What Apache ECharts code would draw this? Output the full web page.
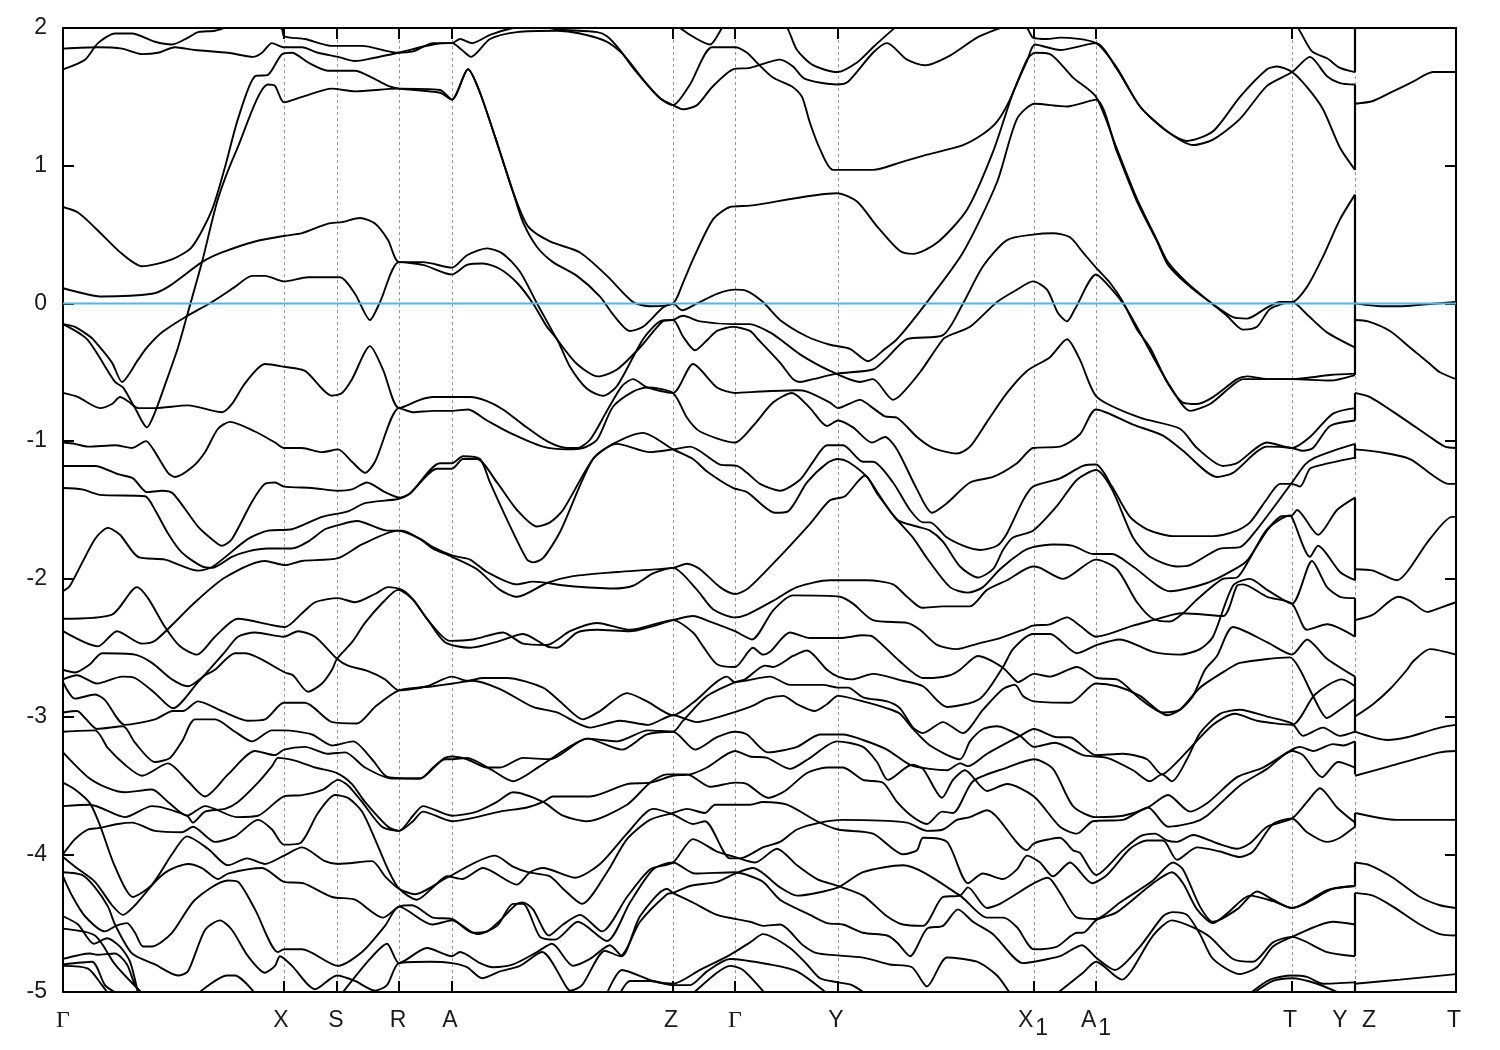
<!DOCTYPE html>
<html><head><meta charset="utf-8"><style>html,body{margin:0;padding:0;background:#fff}#c{width:1500px;height:1050px}</style>
<script src="https://cdn.jsdelivr.net/npm/echarts@6/dist/echarts.min.js"></script></head><body><div id="c"></div>
<script>
const tickK=[0,2.21,2.74,3.36,3.89,6.10,6.72,7.75,9.71,10.33,12.29,12.92,13.93];
const labelK=[0,2.18,2.73,3.35,3.87,6.08,6.72,7.73,9.70,10.33,12.27,12.77,13.06,13.91];
const labelText=['Γ','X','S','R','A','Z','Γ','Y','X1','A1','T','Y','Z','T'];
const yTicks=[-5,2];
const fermi=[[0,0],[13.93,0]];
const zoneK=12.92;
const jumps=[[2,1.68],[1.59,.97],[.79,-.52],[-.65,-.85],[-1.02,-1.13],[-1.41,-2.01],[-2.14,-2.42],[-2.71,-3.12],[-3.18,-3.42],[-3.70,-3.80],[-4.06,-4.23],[-4.28,-4.74],[-4.93,-5]];
const band01=[[0,1.70],[.22,1.77],[.35,1.89],[.52,1.96],[.69,1.96],[.92,1.90],[1.09,1.88],[1.25,1.93],[1.35,1.97],[1.52,1.98],[1.65,2.01],[1.82,2.05],[2.07,2.05],[2.19,1.99],[2.21,1.94],[2.42,1.92],[2.69,1.87],[2.99,1.87],[3.35,1.82],[3.50,1.83],[3.70,1.89],[3.89,1.89],[3.97,1.92],[4.09,1.89],[4.27,1.95],[4.50,2.00],[4.72,2.02],[4.94,1.99],[5.34,1.97],[5.44,1.94],[5.57,1.84],[5.70,1.71],[5.97,1.49],[6.10,1.44],[6.27,1.59],[6.49,1.86],[6.72,1.86],[6.84,1.82],[6.95,1.74],[7.10,1.64],[7.30,1.57],[7.39,1.50],[7.47,1.31],[7.57,1.12],[7.70,.97],[8.10,.97],[8.40,1.03],[8.64,1.08],[9.00,1.15],[9.20,1.23],[9.34,1.32],[9.47,1.48],[9.64,1.77],[9.72,1.82],[9.87,1.81],[10.10,1.64],[10.33,1.50],[10.54,1.12],[10.74,.76],[10.94,.46],[11.05,.30],[11.24,.15],[11.47,.01],[11.64,-.09],[11.80,-.19],[11.94,-.17],[12.07,-.04],[12.29,.01],[12.44,-.08],[12.64,-.21],[12.92,-.32]];
const band02=[[0,1.85],[.35,1.86],[.59,1.85],[.79,1.81],[.95,1.82],[1.12,1.86],[1.32,1.84],[1.65,1.82],[1.90,1.79],[1.99,1.82],[2.09,1.89],[2.21,1.86],[2.39,1.86],[2.55,1.82],[2.75,1.79],[2.92,1.76],[3.09,1.78],[3.35,1.82],[3.70,1.88],[3.89,1.89],[3.99,1.84],[4.08,1.79],[4.27,1.92],[4.54,1.97],[4.94,1.98],[5.17,1.96],[5.44,1.90],[5.60,1.81],[5.84,1.59],[5.97,1.49],[6.10,1.44],[6.20,1.41],[6.34,1.44],[6.49,1.57],[6.70,1.70],[6.87,1.71],[7.17,1.77],[7.30,1.72],[7.42,1.63],[7.74,1.59],[7.85,1.61],[8.10,1.82],[8.24,1.89],[8.44,1.77],[8.62,1.73],[8.87,1.80],[9.14,1.93],[9.37,2.00],[9.52,2.04],[9.64,2.00],[9.70,1.93],[9.84,1.92],[9.97,1.93],[10.33,1.89],[10.54,1.71],[10.77,1.43],[11.04,1.25],[11.24,1.18],[11.50,1.25],[11.77,1.50],[12.04,1.70],[12.14,1.72],[12.29,1.68],[12.44,1.57],[12.60,1.41],[12.77,1.13],[12.92,.97]];
const band03=[[7.17,2.06],[7.25,1.99],[7.34,1.84],[7.50,1.73],[7.74,1.68],[7.94,1.75],[8.10,1.86],[8.30,1.99],[8.42,2.06]];
const band04=[[0,.70],[.15,.66],[.32,.55],[.59,.36],[.79,.27],[1.09,.32],[1.29,.41],[1.49,.68],[1.62,.99],[1.75,1.34],[1.92,1.65],[2.05,1.66],[2.19,1.81],[2.29,1.82],[2.45,1.75],[2.65,1.69],[2.92,1.69],[3.09,1.64],[3.25,1.58],[3.36,1.56],[3.77,1.53],[3.89,1.48],[4.05,1.70],[4.17,1.53],[4.37,1.10],[4.50,.81],[4.65,.56],[4.87,.45],[5.17,.37],[5.44,.20],[5.70,.01],[5.87,-.02],[6.10,0],[6.20,.15],[6.30,.32],[6.50,.61],[6.67,.70],[6.87,.71],[7.74,.80],[7.94,.74],[8.14,.56],[8.37,.38],[8.50,.36],[8.74,.44],[9.04,.68],[9.30,1.10],[9.50,1.53],[9.64,1.76],[9.72,1.88],[9.97,1.84],[10.33,1.89],[10.54,1.70],[10.77,1.43],[11.04,1.25],[11.30,1.15],[11.50,1.19],[11.77,1.34],[12.04,1.58],[12.29,1.68],[12.47,1.79],[12.64,1.65],[12.77,1.60],[12.92,1.59]];
const band05=[[0,-.15],[.24,-.26],[.52,-.57],[.60,-.61],[.72,-.76],[.84,-.90],[.92,-.79],[1.05,-.53],[1.15,-.32],[1.24,-.09],[1.39,.30],[1.55,.76],[1.74,1.12],[2.05,1.59],[2.12,1.58],[2.21,1.46],[2.39,1.50],[2.69,1.56],[2.92,1.54],[3.35,1.56],[3.77,1.55],[3.89,1.48],[4.05,1.70],[4.17,1.53],[4.37,1.10],[4.50,.81],[4.60,.59],[4.74,.41],[4.90,.30],[5.14,.20],[5.37,.05],[5.50,-.08],[5.67,-.20],[5.80,-.17],[6.00,-.03],[6.10,0],[6.19,-.05],[6.34,0],[6.54,.07],[6.72,.10],[6.84,.09],[7.00,.01],[7.17,-.12],[7.44,-.24],[7.67,-.30],[7.87,-.33],[8.05,-.42],[8.22,-.33],[8.34,-.26],[8.64,.01],[9.00,.37],[9.34,.88],[9.54,1.34],[9.72,1.45],[10.04,1.43],[10.33,1.48],[10.54,1.10],[10.74,.74],[10.94,.45],[11.05,.28],[11.24,.14],[11.47,.01],[11.70,-.10],[11.84,-.11],[12.04,-.03],[12.17,.01],[12.29,.01],[12.44,.12],[12.60,.34],[12.77,.61],[12.92,.79]];
const band06=[[0,.11],[.22,.07],[.39,.05],[.89,.07],[1.05,.12],[1.39,.30],[1.59,.37],[1.92,.45],[2.21,.49],[2.39,.51],[2.65,.58],[2.79,.59],[2.97,.62],[3.12,.58],[3.25,.46],[3.36,.30],[3.60,.30],[3.89,.26],[4.04,.35],[4.24,.40],[4.40,.36],[4.57,.23],[4.74,0],[4.87,-.17],[4.94,-.26],[5.14,-.44],[5.35,-.53],[5.54,-.48],[5.77,-.32],[6.00,-.13],[6.10,-.12],[6.20,-.09],[6.37,-.13],[6.70,-.15],[6.87,-.15],[7.07,-.21],[7.17,-.26],[7.37,-.37],[7.67,-.49],[7.97,-.57],[8.10,-.55],[8.30,-.70],[8.37,-.67],[8.57,-.50],[8.80,-.26],[8.87,-.23],[9.07,-.17],[9.34,.01],[9.54,.10],[9.70,.16],[9.84,.10],[9.95,-.07],[10.04,-.13],[10.12,-.04],[10.33,.21],[10.49,.10],[10.62,-.02],[10.77,-.21],[10.85,-.32],[11.07,-.60],[11.27,-.78],[11.47,-.73],[11.67,-.61],[11.80,-.55],[12.29,-.55],[12.67,-.56],[12.92,-.52]];
const band07=[[0,-.15],[.12,-.17],[.25,-.23],[.30,-.26],[.49,-.43],[.59,-.57],[.75,-.41],[.84,-.32],[.99,-.21],[1.22,-.10],[1.49,.01],[1.72,.12],[1.89,.20],[2.02,.20],[2.21,.16],[2.45,.19],[2.77,.19],[2.92,.07],[3.07,-.12],[3.17,.01],[3.36,.30],[3.60,.28],[3.89,.21],[4.04,.28],[4.20,.29],[4.37,.25],[4.54,.15],[4.70,0],[4.84,-.17],[4.94,-.26],[5.07,-.46],[5.24,-.62],[5.40,-.67],[5.54,-.60],[5.80,-.26],[5.97,-.13],[6.10,-.12],[6.20,-.24],[6.32,-.34],[6.45,-.26],[6.54,-.20],[6.70,-.17],[6.87,-.20],[6.95,-.26],[7.17,-.43],[7.30,-.55],[7.37,-.57],[7.50,-.55],[7.74,-.51],[8.10,-.48],[8.22,-.41],[8.44,-.26],[8.80,-.23],[9.00,0],[9.20,.27],[9.44,.46],[9.70,.50],[9.90,.51],[10.07,.48],[10.20,.37],[10.33,.26],[10.47,.15],[10.60,.01],[10.74,-.19],[10.87,-.32],[11.04,-.57],[11.20,-.72],[11.34,-.73],[11.50,-.68],[11.74,-.55],[11.84,-.53],[12.04,-.55],[12.29,-.55],[12.67,-.52],[12.92,-.51]];
const band08=[[0,-.65],[.15,-.68],[.37,-.76],[.49,-.73],[.57,-.68],[.65,-.71],[.75,-.76],[.92,-.76],[1.25,-.74],[1.59,-.79],[1.69,-.73],[1.82,-.58],[2.02,-.44],[2.21,-.46],[2.42,-.49],[2.69,-.67],[2.79,-.65],[2.89,-.55],[3.07,-.31],[3.20,-.48],[3.36,-.76],[3.57,-.70],[3.70,-.68],[3.89,-.68],[4.07,-.68],[4.24,-.71],[4.40,-.77],[4.60,-.88],[4.84,-1.00],[5.04,-1.05],[5.14,-1.05],[5.27,-.99],[5.44,-.78],[5.59,-.60],[5.70,-.55],[5.84,-.61],[6.10,-.65],[6.30,-.44],[6.54,-.61],[6.72,-.65],[6.97,-.64],[7.34,-.63],[7.44,-.64],[7.67,-.72],[7.75,-.76],[7.97,-.70],[8.10,-.76],[8.22,-.82],[8.34,-.83],[8.54,-.97],[8.70,-1.05],[8.94,-1.09],[9.07,-1.04],[9.24,-.86],[9.44,-.65],[9.64,-.49],[9.87,-.39],[10.04,-.26],[10.17,-.41],[10.34,-.68],[10.77,-.83],[11.17,-.91],[11.34,-1.05],[11.60,-1.18],[11.74,-1.16],[12.04,-1.01],[12.29,-1.05],[12.47,-.97],[12.70,-.80],[12.92,-.76]];
const band09=[[0,-1.01],[.12,-1.02],[.25,-1.04],[.52,-1.03],[.69,-1.05],[.83,-1.00],[.92,-1.08],[1.05,-1.23],[1.12,-1.26],[1.29,-1.19],[1.42,-1.08],[1.55,-.91],[1.67,-.86],[1.92,-.93],[2.12,-1.01],[2.21,-1.05],[2.39,-1.05],[2.59,-1.08],[2.75,-1.06],[2.89,-1.15],[3.02,-1.23],[3.12,-1.15],[3.36,-.76],[3.50,-.79],[3.70,-.78],[3.89,-.78],[4.05,-.77],[4.24,-.85],[4.47,-.94],[4.80,-1.04],[5.04,-1.06],[5.20,-1.05],[5.34,-.99],[5.50,-.75],[5.70,-.64],[5.84,-.61],[6.10,-.65],[6.24,-.83],[6.37,-.93],[6.72,-1.01],[6.90,-.89],[7.10,-.72],[7.29,-.65],[7.47,-.76],[7.64,-.89],[7.75,-.85],[7.90,-.90],[8.09,-1.01],[8.22,-.97],[8.34,-1.06],[8.54,-1.35],[8.69,-1.52],[8.84,-1.45],[9.07,-1.30],[9.30,-1.26],[9.54,-1.16],[9.70,-1.05],[9.97,-1.04],[10.17,-.95],[10.33,-.77],[10.70,-.88],[11.00,-.96],[11.20,-1.07],[11.54,-1.26],[11.70,-1.23],[12.04,-1.04],[12.29,-1.05],[12.40,-1.07],[12.50,-1.05],[12.67,-.89],[12.92,-.85]];
const band10=[[0,-1.18],[.32,-1.18],[.55,-1.24],[.70,-1.27],[.84,-1.37],[.99,-1.36],[1.10,-1.38],[1.35,-1.62],[1.52,-1.73],[1.59,-1.76],[1.69,-1.71],[1.89,-1.44],[2.02,-1.31],[2.12,-1.30],[2.21,-1.33],[2.49,-1.34],[2.75,-1.36],[2.89,-1.35],[3.04,-1.30],[3.22,-1.37],[3.37,-1.41],[3.47,-1.38],[3.77,-1.16],[3.89,-1.16],[4.00,-1.11],[4.17,-1.13],[4.27,-1.30],[4.44,-1.57],[4.64,-1.86],[4.70,-1.88],[4.80,-1.85],[4.97,-1.66],[5.30,-1.13],[5.54,-1.02],[5.87,-1.08],[6.10,-1.06],[6.27,-1.04],[6.57,-1.17],[6.74,-1.18],[6.84,-1.23],[6.97,-1.31],[7.17,-1.36],[7.37,-1.28],[7.50,-1.15],[7.64,-1.03],[7.80,-1.03],[8.00,-1.15],[8.10,-1.15],[8.30,-1.30],[8.47,-1.50],[8.60,-1.59],[8.67,-1.59],[8.84,-1.70],[9.04,-1.77],[9.17,-1.79],[9.34,-1.76],[9.44,-1.67],[9.60,-1.43],[9.70,-1.33],[9.97,-1.27],[10.20,-1.18],[10.33,-1.17],[10.49,-1.33],[10.67,-1.55],[10.84,-1.64],[11.10,-1.69],[11.50,-1.69],[11.74,-1.65],[11.87,-1.59],[12.04,-1.42],[12.17,-1.31],[12.29,-1.31],[12.37,-1.33],[12.47,-1.20],[12.60,-1.17],[12.92,-1.12]];
const band11=[[0,-2.09],[.07,-2.05],[.32,-1.71],[.45,-1.63],[.57,-1.68],[.75,-1.84],[1.02,-1.86],[1.35,-1.94],[1.50,-1.91],[1.85,-1.71],[2.05,-1.65],[2.29,-1.64],[2.59,-1.55],[2.85,-1.51],[3.02,-1.45],[3.35,-1.42],[3.47,-1.38],[3.74,-1.20],[3.89,-1.20],[4.00,-1.13],[4.14,-1.13],[4.34,-1.30],[4.54,-1.50],[4.74,-1.62],[4.87,-1.59],[5.00,-1.50],[5.30,-1.13],[5.50,-1.02],[5.80,-.94],[6.10,-1.06],[6.30,-1.13],[6.44,-1.22],[6.70,-1.34],[6.84,-1.37],[7.12,-1.52],[7.25,-1.51],[7.44,-1.30],[7.64,-1.16],[7.75,-1.13],[7.85,-1.15],[8.04,-1.26],[8.17,-1.40],[8.34,-1.57],[8.54,-1.62],[8.67,-1.65],[8.80,-1.73],[8.97,-1.91],[9.15,-1.99],[9.30,-1.93],[9.40,-1.79],[9.50,-1.70],[9.70,-1.65],[9.94,-1.47],[10.14,-1.28],[10.33,-1.21],[10.49,-1.35],[10.70,-1.70],[10.87,-1.84],[11.14,-1.91],[11.27,-1.90],[11.57,-1.78],[11.77,-1.77],[11.94,-1.64],[12.29,-1.30],[12.42,-1.17],[12.52,-1.12],[12.70,-1.07],[12.92,-1.02]];
const band12=[[0,-1.34],[.19,-1.35],[.37,-1.39],[.82,-1.40],[.92,-1.50],[1.05,-1.67],[1.19,-1.81],[1.39,-1.91],[1.49,-1.92],[1.69,-1.84],[1.85,-1.80],[2.05,-1.78],[2.29,-1.78],[2.45,-1.73],[2.62,-1.64],[2.75,-1.61],[2.94,-1.58],[3.25,-1.65],[3.39,-1.65],[3.57,-1.71],[3.70,-1.78],[3.89,-1.84],[4.14,-1.93],[4.37,-2.08],[4.54,-2.13],[4.84,-2.03],[5.10,-1.98],[5.54,-1.95],[6.10,-1.92],[6.24,-1.89],[6.37,-1.93],[6.57,-2.06],[6.72,-2.11],[6.85,-2.07],[7.10,-1.89],[7.47,-1.60],[7.67,-1.43],[7.82,-1.40],[8.02,-1.25],[8.14,-1.38],[8.34,-1.57],[8.50,-1.70],[8.64,-1.85],[8.87,-2.06],[9.05,-2.10],[9.20,-2.06],[9.37,-1.93],[9.60,-1.80],[9.70,-1.77],[9.90,-1.75],[10.10,-1.76],[10.30,-1.82],[10.49,-1.82],[10.70,-1.91],[11.07,-2.09],[11.44,-2.03],[11.74,-1.92],[11.85,-1.86],[12.04,-1.65],[12.17,-1.55],[12.29,-1.54],[12.34,-1.50],[12.55,-1.68],[12.74,-1.50],[12.92,-1.41]];
const band13=[[0,-2.38],[.35,-2.49],[.54,-2.38],[.79,-2.47],[.92,-2.45],[1.32,-2.17],[1.62,-1.99],[2.02,-1.87],[2.22,-1.90],[2.39,-1.87],[2.75,-1.85],[2.99,-1.75],[3.35,-1.65],[3.57,-1.71],[3.70,-1.77],[3.89,-1.83],[4.07,-1.86],[4.24,-1.95],[4.54,-2.04],[4.70,-2.02],[5.04,-2.05],[5.50,-2.07],[5.70,-2.05],[5.90,-1.96],[6.10,-1.92],[6.34,-2.08],[6.50,-2.22],[6.72,-2.28],[6.84,-2.26],[7.10,-2.16],[7.34,-2.06],[7.67,-2.01],[8.04,-2.01],[8.30,-2.04],[8.44,-2.13],[8.59,-2.21],[8.80,-2.20],[9.07,-2.20],[9.24,-2.08],[9.44,-2.01],[9.70,-1.91],[9.77,-1.92],[10.00,-2.00],[10.33,-1.86],[10.54,-1.93],[10.74,-2.17],[10.90,-2.29],[11.07,-2.31],[11.20,-2.25],[11.34,-2.15],[11.60,-2.00],[11.74,-1.99],[11.87,-1.85],[12.04,-1.64],[12.27,-1.54],[12.30,-1.57],[12.47,-1.84],[12.55,-1.76],[12.77,-1.95],[12.92,-2.01]];
const band14=[[0,-2.29],[.49,-2.26],[.74,-2.06],[.85,-2.14],[1.02,-2.35],[1.17,-2.49],[1.34,-2.55],[1.52,-2.42],[1.75,-2.29],[2.22,-2.35],[2.39,-2.25],[2.52,-2.17],[2.75,-2.14],[2.92,-2.17],[3.12,-2.11],[3.25,-2.06],[3.39,-2.08],[3.50,-2.15],[3.64,-2.29],[3.82,-2.46],[4.07,-2.50],[4.37,-2.45],[4.60,-2.40],[4.84,-2.49],[4.94,-2.50],[5.14,-2.39],[5.34,-2.37],[5.67,-2.38],[6.10,-2.30],[6.30,-2.27],[6.47,-2.31],[6.72,-2.38],[6.89,-2.44],[7.10,-2.23],[7.30,-2.12],[7.77,-2.13],[7.90,-2.18],[8.10,-2.30],[8.44,-2.32],[8.57,-2.37],[8.74,-2.48],[8.94,-2.51],[9.15,-2.47],[9.37,-2.43],[9.60,-2.37],[9.70,-2.34],[9.87,-2.33],[10.04,-2.28],[10.17,-2.34],[10.33,-2.42],[10.70,-2.34],[10.90,-2.30],[11.10,-2.26],[11.20,-2.25],[11.60,-2.27],[11.74,-2.05],[11.80,-2.04],[12.04,-2.13],[12.29,-2.18],[12.44,-2.37],[12.64,-2.33],[12.92,-2.42]];
const band15=[[0,-2.66],[.12,-2.68],[.27,-2.62],[.39,-2.54],[.72,-2.55],[.89,-2.61],[1.09,-2.73],[1.25,-2.78],[1.42,-2.70],[1.52,-2.66],[1.72,-2.54],[1.82,-2.54],[2.22,-2.68],[2.30,-2.70],[2.45,-2.82],[2.59,-2.76],[2.69,-2.66],[2.74,-2.58],[2.89,-2.46],[3.02,-2.32],[3.20,-2.17],[3.35,-2.08],[3.50,-2.15],[3.64,-2.29],[3.87,-2.45],[4.10,-2.44],[4.40,-2.39],[4.60,-2.47],[4.84,-2.48],[5.07,-2.38],[5.34,-2.32],[5.67,-2.37],[6.10,-2.30],[6.30,-2.39],[6.40,-2.49],[6.54,-2.62],[6.72,-2.64],[6.90,-2.50],[7.00,-2.55],[7.07,-2.53],[7.27,-2.39],[7.47,-2.43],[7.77,-2.43],[8.00,-2.41],[8.10,-2.42],[8.37,-2.60],[8.60,-2.72],[8.70,-2.72],[8.87,-2.70],[8.97,-2.66],[9.15,-2.56],[9.39,-2.64],[9.50,-2.72],[9.55,-2.75],[9.71,-2.69],[9.87,-2.71],[10.14,-2.64],[10.34,-2.72],[10.54,-2.73],[10.77,-2.87],[11.00,-2.97],[11.17,-2.95],[11.30,-2.85],[11.42,-2.66],[11.54,-2.56],[11.70,-2.35],[12.04,-2.46],[12.29,-2.55],[12.44,-2.44],[12.64,-2.58],[12.92,-2.71]];
const band16=[[0,-2.73],[.14,-2.70],[.34,-2.76],[.59,-2.71],[.72,-2.72],[.92,-2.83],[1.10,-2.94],[1.35,-2.75],[1.62,-2.53],[1.75,-2.42],[1.92,-2.39],[2.21,-2.42],[2.35,-2.38],[2.52,-2.42],[2.74,-2.58],[2.85,-2.63],[3.05,-2.67],[3.22,-2.73],[3.36,-2.81],[3.64,-2.78],[3.89,-2.71],[4.04,-2.74],[4.20,-2.72],[4.44,-2.72],[4.80,-2.79],[4.97,-2.89],[5.20,-3.02],[5.37,-2.96],[5.64,-2.83],[5.84,-2.89],[6.10,-2.99],[6.30,-2.90],[6.64,-2.71],[6.72,-2.75],[7.07,-2.71],[7.27,-2.77],[7.60,-2.77],[7.75,-2.79],[7.85,-2.79],[8.00,-2.86],[8.24,-2.89],[8.37,-2.94],[8.50,-3.08],[8.60,-3.12],[8.80,-3.04],[9.00,-3.12],[9.20,-2.95],[9.40,-2.80],[9.52,-2.77],[9.60,-2.85],[9.71,-2.89],[10.07,-2.90],[10.33,-2.76],[10.54,-2.78],[10.77,-2.85],[11.04,-2.99],[11.17,-2.95],[11.37,-2.79],[11.64,-2.66],[11.77,-2.61],[12.27,-2.57],[12.37,-2.66],[12.50,-2.85],[12.64,-3.01],[12.77,-2.95],[12.92,-2.87]];
const band17=[[0,-2.75],[.12,-2.87],[.32,-2.84],[.42,-2.88],[.62,-3.06],[.92,-3.02],[1.10,-2.96],[1.20,-2.96],[1.35,-2.89],[1.59,-2.96],[1.85,-3.03],[2.02,-3.02],[2.21,-2.90],[2.42,-2.90],[2.69,-3.04],[2.94,-3.05],[3.12,-2.93],[3.36,-2.81],[3.70,-2.78],[3.90,-2.76],[4.09,-2.74],[4.37,-2.80],[4.70,-2.93],[4.94,-2.97],[5.27,-3.08],[5.57,-3.03],[5.85,-3.06],[6.10,-2.99],[6.34,-3.04],[6.57,-3.00],[6.87,-2.93],[7.04,-2.87],[7.20,-2.85],[7.34,-2.91],[7.52,-2.96],[7.64,-2.91],[7.75,-2.85],[8.00,-2.89],[8.24,-2.94],[8.37,-2.98],[8.50,-3.09],[8.67,-3.21],[8.97,-3.31],[9.07,-3.18],[9.20,-3.09],[9.34,-3.07],[9.57,-3.14],[9.71,-3.22],[9.92,-3.19],[10.20,-3.28],[10.44,-3.30],[10.70,-3.39],[10.87,-3.47],[10.99,-3.42],[11.09,-3.47],[11.24,-3.31],[11.37,-3.12],[11.57,-2.98],[11.77,-2.95],[12.04,-3.00],[12.29,-3.05],[12.40,-3.14],[12.60,-3.08],[12.77,-3.14],[12.92,-3.11]];
const band18=[[0,-2.97],[.14,-2.96],[.22,-3.01],[.34,-3.09],[.60,-3.07],[.72,-3.19],[.92,-3.33],[1.07,-3.30],[1.19,-3.18],[1.32,-3.02],[1.52,-3.02],[1.72,-3.11],[1.89,-3.18],[2.09,-3.10],[2.21,-3.10],[2.49,-3.13],[2.69,-3.21],[2.90,-3.18],[3.09,-3.31],[3.25,-3.44],[3.57,-3.45],[3.70,-3.37],[3.82,-3.30],[3.89,-3.29],[4.04,-3.31],[4.24,-3.37],[4.37,-3.37],[4.60,-3.30],[4.87,-3.31],[5.24,-3.16],[5.54,-3.18],[5.85,-3.10],[6.10,-3.11],[6.20,-3.03],[6.44,-2.85],[6.72,-2.75],[6.82,-2.73],[7.02,-2.63],[7.10,-2.64],[7.30,-2.56],[7.44,-2.52],[7.64,-2.66],[7.75,-2.71],[7.89,-2.73],[8.10,-2.69],[8.40,-2.74],[8.60,-2.78],[8.84,-2.93],[9.17,-2.87],[9.40,-2.64],[9.50,-2.51],[9.70,-2.40],[9.87,-2.40],[10.14,-2.54],[10.34,-2.48],[10.57,-2.44],[10.90,-2.53],[11.17,-2.55],[11.37,-2.51],[11.50,-2.42],[11.70,-2.05],[11.87,-2.00],[12.04,-2.08],[12.29,-2.18],[12.49,-1.87],[12.64,-2.06],[12.77,-2.13],[12.92,-2.14]];
const band19=[[0,-3.11],[.32,-3.10],[.45,-3.23],[.62,-3.35],[.79,-3.43],[1.05,-3.34],[1.25,-3.47],[1.42,-3.58],[1.65,-3.42],[1.92,-3.25],[2.12,-3.28],[2.21,-3.24],[2.42,-3.22],[2.65,-3.27],[2.82,-3.26],[3.02,-3.37],[3.29,-3.45],[3.57,-3.45],[3.82,-3.31],[3.89,-3.31],[4.04,-3.30],[4.27,-3.38],[4.50,-3.47],[4.77,-3.36],[5.04,-3.23],[5.24,-3.16],[5.59,-3.24],[5.84,-3.13],[6.10,-3.11],[6.32,-3.24],[6.54,-3.15],[6.72,-3.11],[6.84,-3.13],[7.05,-3.26],[7.34,-3.22],[7.57,-3.13],[7.80,-3.13],[8.00,-3.17],[8.24,-3.24],[8.47,-3.35],[8.67,-3.38],[8.84,-3.39],[8.97,-3.34],[9.05,-3.36],[9.24,-3.27],[9.57,-3.14],[9.71,-3.09],[9.94,-3.15],[10.07,-3.15],[10.33,-3.28],[10.60,-3.27],[10.84,-3.31],[10.99,-3.42],[11.14,-3.33],[11.50,-3.06],[11.72,-2.98],[11.94,-3.03],[12.29,-3.06],[12.52,-2.84],[12.79,-2.73],[12.92,-2.78]];
const band20=[[0,-3.26],[.25,-3.44],[.45,-3.52],[.62,-3.55],[.89,-3.53],[1.05,-3.62],[1.24,-3.72],[1.42,-3.65],[1.74,-3.73],[1.95,-3.72],[2.21,-3.58],[2.39,-3.57],[2.60,-3.53],[2.75,-3.46],[2.85,-3.50],[2.99,-3.62],[3.19,-3.80],[3.36,-3.83],[3.50,-3.72],[3.60,-3.65],[3.89,-3.72],[4.14,-3.69],[4.34,-3.62],[4.50,-3.55],[4.80,-3.62],[5.00,-3.72],[5.24,-3.76],[5.64,-3.64],[5.87,-3.48],[6.04,-3.42],[6.24,-3.42],[6.47,-3.51],[6.72,-3.48],[6.84,-3.49],[7.05,-3.59],[7.22,-3.54],[7.44,-3.41],[7.64,-3.37],[7.80,-3.37],[8.00,-3.46],[8.20,-3.48],[8.34,-3.62],[8.50,-3.73],[8.64,-3.78],[8.79,-3.69],[8.90,-3.70],[9.10,-3.47],[9.44,-3.37],[9.71,-3.31],[9.90,-3.38],[10.10,-3.65],[10.33,-3.73],[10.60,-3.72],[10.85,-3.66],[11.05,-3.57],[11.27,-3.69],[11.44,-3.63],[11.74,-3.44],[12.00,-3.37],[12.29,-3.24],[12.37,-3.22],[12.50,-3.25],[12.70,-3.20],[12.80,-3.21],[12.92,-3.18]];
const band21=[[0,-3.65],[.27,-3.64],[.62,-3.73],[.89,-3.65],[1.24,-3.72],[1.30,-3.77],[1.42,-3.69],[1.62,-3.67],[1.75,-3.62],[1.95,-3.48],[2.09,-3.36],[2.15,-3.30],[2.32,-3.32],[2.52,-3.37],[2.74,-3.41],[2.89,-3.49],[3.02,-3.62],[3.25,-3.80],[3.36,-3.83],[3.50,-3.76],[3.60,-3.69],[3.89,-3.76],[4.37,-3.69],[4.64,-3.66],[4.80,-3.62],[4.90,-3.58],[5.27,-3.58],[5.64,-3.49],[5.87,-3.48],[6.10,-3.43],[6.27,-3.42],[6.44,-3.37],[6.72,-3.25],[6.87,-3.29],[7.04,-3.30],[7.27,-3.38],[7.45,-3.31],[7.74,-3.18],[8.00,-3.22],[8.14,-3.33],[8.25,-3.46],[8.49,-3.35],[8.60,-3.38],[8.79,-3.59],[8.90,-3.46],[9.02,-3.39],[9.24,-3.54],[9.44,-3.49],[9.71,-3.58],[9.97,-3.80],[10.14,-3.85],[10.30,-3.76],[10.60,-3.75],[10.85,-3.66],[11.05,-3.80],[11.30,-3.77],[11.44,-3.72],[11.77,-3.50],[12.04,-3.38],[12.29,-3.25],[12.40,-3.28],[12.59,-3.44],[12.75,-3.33],[12.92,-3.37]];
const band22=[[0,-4.00],[.12,-3.89],[.25,-3.82],[.35,-3.81],[.55,-3.78],[.69,-3.77],[.92,-3.83],[1.19,-3.84],[1.30,-3.80],[1.52,-3.91],[1.72,-3.87],[1.95,-3.75],[2.09,-3.82],[2.21,-3.93],[2.37,-3.92],[2.55,-3.70],[2.72,-3.57],[2.85,-3.59],[2.99,-3.69],[3.12,-3.89],[3.25,-4.11],[3.36,-4.25],[3.54,-4.33],[3.70,-4.24],[3.84,-4.16],[3.99,-4.18],[4.20,-4.10],[4.54,-4.22],[4.67,-4.13],[4.80,-4.10],[5.12,-4.17],[5.37,-4.07],[5.64,-3.85],[5.90,-3.67],[6.10,-3.71],[6.30,-3.78],[6.42,-3.76],[6.67,-4.03],[6.77,-4.03],[7.00,-3.95],[7.17,-3.91],[7.34,-3.82],[7.57,-3.77],[7.80,-3.75],[8.44,-3.77],[8.64,-3.83],[8.80,-3.82],[8.94,-3.75],[9.07,-3.73],[9.24,-3.68],[9.64,-3.97],[9.71,-3.92],[9.87,-3.89],[9.97,-3.88],[10.10,-3.97],[10.17,-3.99],[10.33,-4.15],[10.60,-3.97],[10.77,-3.87],[10.92,-3.85],[11.04,-3.90],[11.14,-3.91],[11.30,-3.86],[11.54,-3.92],[11.74,-3.96],[11.87,-3.92],[12.04,-3.80],[12.29,-3.74],[12.44,-3.62],[12.57,-3.52],[12.74,-3.66],[12.92,-3.77]];
const band23=[[0,-3.48],[.12,-3.53],[.27,-3.63],[.37,-3.79],[.52,-4.09],[.70,-4.31],[.89,-4.22],[1.09,-4.00],[1.24,-3.87],[1.45,-3.96],[1.65,-4.08],[1.84,-4.03],[2.02,-4.07],[2.21,-4.01],[2.39,-3.95],[2.62,-4.05],[2.75,-4.07],[3.09,-4.05],[3.22,-4.16],[3.36,-4.25],[3.52,-4.29],[3.84,-4.17],[4.32,-4.01],[4.50,-4.09],[4.65,-4.13],[4.87,-4.16],[5.00,-4.25],[5.19,-4.36],[5.44,-4.13],[5.64,-3.89],[5.87,-3.75],[6.10,-3.70],[6.24,-3.67],[6.42,-3.70],[6.52,-3.64],[6.87,-3.64],[7.00,-3.62],[7.24,-3.64],[7.54,-3.76],[7.75,-3.82],[8.10,-3.85],[8.40,-4.00],[8.54,-3.97],[8.60,-3.88],[8.84,-3.91],[9.05,-4.21],[9.20,-4.14],[9.40,-4.18],[9.54,-4.11],[9.64,-4.01],[9.77,-4.06],[9.90,-4.16],[10.07,-4.06],[10.29,-4.21],[10.44,-4.15],[10.67,-3.96],[10.84,-3.90],[11.00,-3.90],[11.14,-4.04],[11.34,-3.95],[11.57,-3.98],[11.77,-4.02],[11.90,-3.98],[12.10,-3.78],[12.29,-3.74],[12.44,-3.84],[12.64,-3.91],[12.77,-3.88],[12.92,-3.80]];
const band24=[[0,-4.02],[.12,-4.09],[.32,-4.20],[.49,-4.37],[.60,-4.44],[.72,-4.37],[.92,-4.20],[1.05,-4.12],[1.25,-4.07],[1.39,-4.10],[1.55,-4.18],[1.65,-4.14],[1.99,-4.10],[2.21,-4.20],[2.40,-4.21],[2.69,-4.31],[2.92,-4.33],[3.20,-4.46],[3.36,-4.38],[3.49,-4.37],[3.70,-4.46],[3.89,-4.47],[4.10,-4.57],[4.24,-4.56],[4.37,-4.48],[4.54,-4.36],[4.60,-4.35],[4.70,-4.40],[4.86,-4.59],[5.00,-4.51],[5.17,-4.44],[5.39,-4.56],[5.64,-4.31],[5.87,-4.11],[6.10,-4.06],[6.30,-3.89],[6.54,-3.98],[6.72,-4.02],[6.92,-4.06],[7.14,-3.96],[7.34,-4.08],[7.54,-4.18],[7.75,-4.23],[8.00,-4.30],[8.24,-4.45],[8.40,-4.51],[8.60,-4.52],[8.80,-4.31],[8.97,-4.30],[9.05,-4.24],[9.24,-4.39],[9.37,-4.36],[9.71,-4.21],[9.85,-4.17],[9.97,-4.28],[10.14,-4.46],[10.33,-4.47],[10.57,-4.35],[10.90,-4.19],[11.10,-4.06],[11.20,-4.11],[11.37,-4.38],[11.50,-4.49],[11.74,-4.40],[11.94,-4.27],[12.10,-4.33],[12.29,-4.39],[12.64,-4.26],[12.92,-4.23]];
const band25=[[0,-4.16],[.09,-4.30],[.22,-4.45],[.42,-4.56],[.53,-4.52],[.64,-4.50],[.72,-4.57],[.80,-4.67],[.89,-4.67],[1.09,-4.57],[1.32,-4.33],[1.65,-4.19],[1.75,-4.20],[1.92,-4.40],[2.15,-4.71],[2.21,-4.69],[2.39,-4.69],[2.75,-4.81],[2.99,-4.71],[3.22,-4.52],[3.36,-4.38],[3.69,-4.51],[3.89,-4.48],[4.14,-4.58],[4.34,-4.52],[4.50,-4.36],[4.60,-4.36],[4.77,-4.60],[4.92,-4.62],[5.15,-4.49],[5.44,-4.63],[5.67,-4.35],[5.90,-4.11],[6.10,-4.06],[6.32,-4.14],[6.72,-4.13],[6.84,-4.15],[7.00,-4.20],[7.17,-4.33],[7.47,-4.44],[7.64,-4.50],[7.80,-4.51],[8.00,-4.57],[8.24,-4.59],[8.34,-4.64],[8.47,-4.74],[8.64,-4.54],[8.80,-4.52],[8.95,-4.40],[9.10,-4.49],[9.30,-4.58],[9.60,-4.79],[9.71,-4.78],[9.97,-4.74],[10.19,-4.66],[10.33,-4.75],[10.52,-4.84],[10.77,-4.67],[11.00,-4.45],[11.10,-4.42],[11.24,-4.44],[11.37,-4.58],[11.50,-4.76],[11.77,-4.87],[11.94,-4.82],[12.10,-4.67],[12.29,-4.60],[12.70,-4.49],[12.92,-4.51]];
const band26=[[0,-4.13],[.19,-4.15],[.32,-4.24],[.45,-4.38],[.52,-4.51],[.69,-4.72],[.92,-4.80],[1.15,-4.88],[1.25,-4.85],[1.42,-4.55],[1.57,-4.48],[1.69,-4.55],[1.85,-4.74],[2.02,-4.86],[2.12,-4.81],[2.17,-4.74],[2.29,-4.81],[2.52,-4.98],[2.74,-4.88],[2.92,-4.92],[3.12,-4.99],[3.24,-4.95],[3.36,-4.79],[3.67,-4.78],[3.89,-4.79],[4.04,-4.82],[4.19,-4.90],[4.37,-4.85],[4.57,-4.81],[4.79,-4.71],[5.04,-4.97],[5.07,-4.99],[5.19,-4.95],[5.42,-4.70],[5.57,-4.74],[5.77,-4.49],[6.04,-4.29],[6.10,-4.28],[6.27,-4.23],[6.54,-4.20],[6.72,-4.14],[6.90,-4.10],[7.17,-4.24],[7.34,-4.30],[7.75,-4.24],[8.00,-4.13],[8.40,-4.08],[8.97,-4.30],[9.24,-4.46],[9.40,-4.46],[9.54,-4.53],[9.71,-4.69],[9.94,-4.67],[10.14,-4.57],[10.20,-4.57],[10.33,-4.48],[10.54,-4.42],[10.90,-4.21],[11.09,-4.13],[11.20,-4.21],[11.34,-4.40],[11.50,-4.50],[11.64,-4.43],[11.87,-4.30],[12.10,-4.34],[12.29,-4.39],[12.70,-4.25],[12.92,-4.23]];
const band27=[[0,-4.45],[.15,-4.51],[.31,-4.65],[.44,-4.61],[.57,-4.67],[.67,-4.78],[.75,-5.01]];
const band28=[[1.35,-5.01],[1.64,-4.88],[1.72,-4.88],[1.92,-5.01]];
const band29=[[2.79,-5.01],[3.07,-4.76],[3.24,-4.65],[3.36,-4.79],[3.64,-4.68],[3.89,-4.74],[3.97,-4.71],[4.17,-4.79],[4.30,-4.82],[4.50,-4.80],[4.74,-4.71],[4.89,-4.65],[5.10,-4.81],[5.27,-4.76],[5.47,-4.66],[5.59,-4.74],[5.77,-4.45],[6.04,-4.25],[6.10,-4.28],[6.30,-4.35],[6.54,-4.44],[6.87,-4.49],[7.00,-4.52],[7.17,-4.51],[7.40,-4.66],[7.55,-4.72],[8.00,-4.75],[8.27,-4.80],[8.49,-4.82],[8.64,-4.96],[8.84,-4.75],[9.14,-4.78],[9.34,-4.88],[9.47,-5.01]];
const band30=[[9.94,-5.01],[10.20,-4.86],[10.33,-4.78],[10.59,-4.91],[10.69,-4.84],[10.90,-4.59],[11.09,-4.48],[11.30,-4.53],[11.47,-4.60],[11.70,-4.76],[11.90,-4.78],[12.10,-4.64],[12.29,-4.60],[12.64,-4.71],[12.92,-4.74]];
const band31=[[5.44,-5.01],[5.59,-4.84],[5.90,-4.92],[6.10,-4.94],[6.37,-4.84],[6.67,-4.73],[6.87,-4.64],[7.00,-4.58],[7.27,-4.68],[7.44,-4.80],[7.57,-4.90],[7.75,-4.93],[7.89,-4.95],[8.02,-5.01]];
const band32=[[5.57,-5.01],[5.67,-4.92],[5.87,-4.92],[6.10,-4.95],[6.27,-4.95],[6.44,-4.85],[6.67,-4.76],[7.07,-4.80],[7.34,-4.85],[7.64,-5.01]];
const band33=[[6.30,-5.01],[6.54,-4.86],[6.67,-4.81],[6.80,-4.84],[7.02,-5.01]];
const band34=[[11.87,-5.01],[12.07,-4.91],[12.29,-4.88],[12.44,-4.89],[12.60,-4.94],[12.92,-4.93]];
const band35=[[11.90,-5.01],[12.10,-4.92],[12.29,-4.90],[12.54,-4.94],[12.77,-5.01]];
const band36=[[0,-4.54],[.32,-4.59],[.52,-4.80],[.79,-5.01]];
const band37=[[0,-4.76],[.27,-4.72],[.34,-4.73],[.52,-4.72],[.64,-4.80],[.72,-4.95],[.79,-5.01]];
const band38=[[0,-4.80],[.29,-4.78],[.42,-4.95],[.54,-5.01]];
const band39=[[0,-4.81],[.25,-4.83],[.39,-4.95],[.45,-5.01]];
const band40=[[12.27,2.05],[12.35,2.00],[12.49,1.83],[12.64,1.78],[12.77,1.71],[12.92,1.68]];
const band41=[[6.12,2.04],[6.17,2.00],[6.34,1.92],[6.47,1.88],[6.59,2.00],[6.64,2.05]];
const right01=[[12.92,1.45],[13.10,1.47],[13.30,1.54],[13.50,1.61],[13.70,1.68],[13.93,1.68]];
const right02=[[12.92,0],[13.17,-.02],[13.37,-.02],[13.57,-.01],[13.93,.01]];
const right03=[[12.92,-.12],[13.05,-.13],[13.27,-.20],[13.47,-.32],[13.67,-.44],[13.77,-.50],[13.93,-.55]];
const right04=[[12.92,-.65],[13.07,-.68],[13.37,-.82],[13.67,-.97],[13.82,-1.04],[13.93,-1.05]];
const right05=[[12.92,-1.06],[13.17,-1.08],[13.47,-1.13],[13.70,-1.25],[13.85,-1.31],[13.93,-1.31]];
const right06=[[12.92,-1.93],[13.10,-1.94],[13.34,-2.01],[13.44,-1.95],[13.67,-1.71],[13.89,-1.55],[13.93,-1.55]];
const right07=[[12.92,-2.30],[13.10,-2.26],[13.35,-2.13],[13.47,-2.16],[13.64,-2.24],[13.77,-2.21],[13.93,-2.17]];
const right08=[[12.92,-3.00],[13.10,-2.91],[13.27,-2.80],[13.44,-2.66],[13.50,-2.60],[13.67,-2.51],[13.93,-2.55]];
const right09=[[12.92,-3.11],[13.24,-3.17],[13.44,-3.15],[13.77,-3.08],[13.93,-3.06]];
const right10=[[12.92,-3.43],[13.27,-3.36],[13.77,-3.26],[13.93,-3.25]];
const right11=[[12.92,-3.70],[13.34,-3.75],[13.93,-3.75]];
const right12=[[12.92,-4.06],[13.07,-4.08],[13.30,-4.17],[13.57,-4.31],[13.77,-4.37],[13.93,-4.39]];
const right13=[[12.92,-4.28],[13.10,-4.30],[13.30,-4.38],[13.57,-4.51],[13.77,-4.58],[13.93,-4.59]];
const right14=[[12.92,-4.94],[13.37,-4.91],[13.93,-4.87]];
const bands=[band01,band02,band03,band04,band05,band06,band07,band08,band09,band10,band11,band12,band13,band14,band15,band16,band17,band18,band19,band20,band21,band22,band23,band24,band25,band26,band27,band28,band29,band30,band31,band32,band33,band34,band35,band36,band37,band38,band39,band40,band41,right01,right02,right03,right04,right05,right06,right07,right08,right09,right10,right11,right12,right13,right14];

const TXT='#1a1a1a', FONT='"Liberation Sans",Arial,sans-serif';
const fmtLabel=(v)=>{let best=0;labelK.forEach((k,i)=>{if(Math.abs(k-v)<Math.abs(labelK[best]-v))best=i;});const t=labelText[best];if(t==='Γ')return '{g|Γ}';if(t.length>1)return '{m|'+t[0]+'}{s|'+t[1]+'}';return '{m|'+t+'}';};
const lineSeries=(d,w)=>({type:'line',data:d,showSymbol:false,silent:true,smooth:0.25,lineStyle:{color:'#000',width:w},animation:false,z:3});
const series=bands.map(b=>lineSeries(b,1.9));
jumps.forEach(j=>series.push({type:'line',data:[[zoneK,j[0]],[zoneK,j[1]]],showSymbol:false,silent:true,lineStyle:{color:'#000',width:2.2},animation:false,z:3}));
series.push({type:'line',data:fermi,showSymbol:false,silent:true,lineStyle:{color:'#56b4e9',width:2},animation:false,z:5});
const common={min:0,max:13.93,type:'value'};
const chart=echarts.init(document.getElementById('c'),null,{renderer:'canvas'});
chart.setOption({backgroundColor:'#fff',animation:false,
 grid:{left:63,right:44,top:28,bottom:58,containLabel:false},
 xAxis:[{...common,position:'bottom',axisLine:{onZero:false,lineStyle:{color:'#000',width:2}},
   axisTick:{show:true,inside:true,length:11,lineStyle:{color:'#000',width:2},customValues:tickK},
   splitLine:{show:true,lineStyle:{color:'#999',width:1,type:[3,3]}},
   axisLabel:{customValues:labelK,margin:16,formatter:fmtLabel,color:TXT,fontFamily:FONT,fontSize:23,rich:{
     m:{fontFamily:FONT,fontSize:23,color:TXT,lineHeight:26},
     g:{fontFamily:'"Liberation Serif",serif',fontSize:24,color:TXT,lineHeight:26},
     s:{fontFamily:FONT,fontSize:23,color:TXT,padding:[16,0,0,2],lineHeight:26}}}},
  {...common,position:'top',axisLine:{onZero:false,lineStyle:{color:'#000',width:2}},
   axisTick:{show:true,inside:true,length:11,lineStyle:{color:'#000',width:2},customValues:tickK},
   splitLine:{show:false},axisLabel:{show:false}}],
 yAxis:[{type:'value',min:yTicks[0],max:yTicks[1],interval:1,position:'left',axisLine:{show:true,onZero:false,lineStyle:{color:'#000',width:2}},
   axisTick:{show:true,inside:true,length:11,lineStyle:{color:'#000',width:2}},splitLine:{show:false},
   axisLabel:{margin:16,color:TXT,fontFamily:FONT,fontSize:23,formatter:v=>String(v)}},
  {type:'value',min:yTicks[0],max:yTicks[1],interval:1,position:'right',axisLine:{show:true,onZero:false,lineStyle:{color:'#000',width:2}},
   axisTick:{show:true,inside:true,length:11,lineStyle:{color:'#000',width:2}},splitLine:{show:false},axisLabel:{show:false}}],
 series});
</script></body></html>
